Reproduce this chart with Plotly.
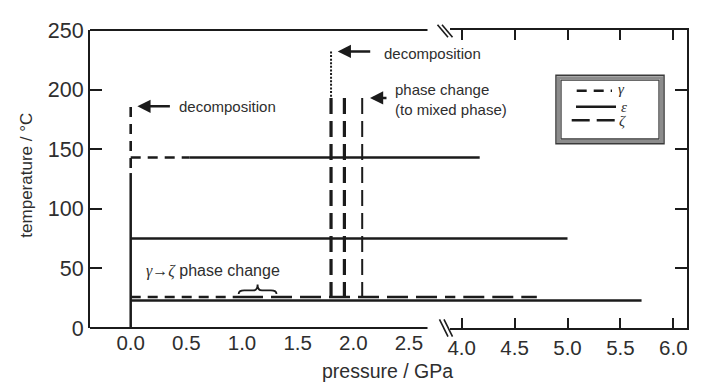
import plotly.graph_objects as go

# ---------------- data ----------------
left_tick_vals = [0.0, 0.5, 1.0, 1.5, 2.0, 2.5]
left_tick_text = ["0.0", "0.5", "1.0", "1.5", "2.0", "2.5"]
left_tick_marks = [0.0, 2 / 3, 4 / 3, 2.0, 8 / 3]
right_tick_vals = [4.0, 4.5, 5.0, 5.5, 6.0]
right_tick_text = ["4.0", "4.5", "5.0", "5.5", "6.0"]
temp_tick_vals = [0, 50, 100, 150, 200, 250]

# gamma phase (short dashes)
gamma_pressure = [0, 0, None, 0, 0.53, None, 0, 1.0]
gamma_temperature = [185.5, 130, None, 143, 143, None, 26, 26]
# epsilon phase (solid)
epsilon_pressure = [0, 0, None, 0.53, 4.17, None, 0, 5.0, None, 0, 5.7]
epsilon_temperature = [130, 0, None, 143, 143, None, 75, 75, None, 23, 23]
# zeta phase (long dashes)
zeta_pressure = [1.0, 4.71]
zeta_temperature = [26, 26]
zeta_heavy_pressure = [1.80, 1.80, None, 1.92, 1.92]
zeta_heavy_temperature = [193, 26, None, 193, 26]
zeta_light_pressure = [2.08, 2.08]
zeta_light_temperature = [193, 26]
# decomposition path (dotted)
decomp_pressure = [1.80, 1.80]
decomp_temperature = [232, 193]

# ---------------- layout geometry ----------------
OFF = 8                                      # page body margin
FIG_W, FIG_H = 728 - 2 * OFF, 390 - 2 * OFF
PL, PR, PT, PB = 90, 687, 19, 328            # plot area in page pixels
SPLIT_PX = 450                               # pixel where right axis begins
X0_PX, PX_PER_GPA_L = 130.7, 111.3           # left axis scale
X4_PX, PX_PER_GPA_R = 461.7, 105.8           # right axis scale
LEFT_RANGE = [(PL - X0_PX) / PX_PER_GPA_L, (SPLIT_PX - X0_PX) / PX_PER_GPA_L]
RIGHT_RANGE = [4.0 + (SPLIT_PX - X4_PX) / PX_PER_GPA_R, 4.0 + (PR - X4_PX) / PX_PER_GPA_R]
XSPLIT = (SPLIT_PX - PL) / (PR - PL)


def fx(px):
    return (px - PL) / (PR - PL)


def fy(py):
    return (PB - py) / (PB - PT)


INK = "#1b1b1b"
TXT = "#2e2e2e"
SANS = "Liberation Sans, Arial, sans-serif"
SERIF = "Liberation Serif, Times New Roman, serif"

fig = go.Figure()


def add_both(x, y, width, dash):
    for xa, ya in (("x", "y"), ("x2", "y2")):
        fig.add_trace(go.Scatter(
            x=x, y=y, xaxis=xa, yaxis=ya, mode="lines",
            line=dict(color=INK, width=width, dash=dash),
            hoverinfo="skip", showlegend=False))


add_both(epsilon_pressure, epsilon_temperature, 2.5, "solid")
add_both(gamma_pressure, gamma_temperature, 2.6, "10px,7px")
add_both(zeta_pressure, zeta_temperature, 2.6, "21px,8px")
add_both(zeta_heavy_pressure, zeta_heavy_temperature, 3.2, "16px,7px")
add_both(zeta_light_pressure, zeta_light_temperature, 2.0, "16px,7px")
add_both(decomp_pressure, decomp_temperature, 2.0, "2px,1.6px")

tick_common = dict(showgrid=False, zeroline=False, tickcolor=INK, tickwidth=2)
XFONT = dict(family=SANS, size=20.5, color=TXT)
YFONT = dict(family=SANS, size=21.5, color=TXT)

fig.update_layout(
    width=FIG_W, height=FIG_H,
    margin=dict(l=PL - OFF, r=FIG_W - (PR - OFF), t=PT - OFF, b=FIG_H - (PB - OFF), pad=0),
    plot_bgcolor="white", paper_bgcolor="white", showlegend=False,
    xaxis=dict(domain=[0, XSPLIT], range=LEFT_RANGE, anchor="y",
               tickmode="array", tickvals=left_tick_vals, ticktext=left_tick_text,
               ticks="", showline=False, ticklabelstandoff=0,
               tickfont=XFONT, showgrid=False, zeroline=False),
    xaxis3=dict(overlaying="x", range=LEFT_RANGE, anchor="y",
                tickmode="array", tickvals=left_tick_marks,
                ticks="inside", ticklen=10, mirror="ticks", showline=False,
                showticklabels=False, **tick_common),
    xaxis2=dict(domain=[XSPLIT, 1], range=RIGHT_RANGE, anchor="y2",
                tickmode="array", tickvals=right_tick_vals, ticktext=right_tick_text,
                ticks="inside", ticklen=10, mirror="ticks",
                showline=True, linecolor=INK, linewidth=2, ticklabelstandoff=0,
                tickfont=XFONT, **tick_common),
    yaxis=dict(range=[0, 250], anchor="x", tickmode="array", tickvals=temp_tick_vals,
               ticks="inside", ticklen=12, showline=True, linecolor=INK, linewidth=2,
               ticklabelstandoff=0, tickfont=YFONT, **tick_common),
    yaxis2=dict(range=[0, 250], anchor="x2", side="right", tickmode="array",
                tickvals=temp_tick_vals, ticks="inside", ticklen=12, showline=True,
                linecolor=INK, linewidth=2, showticklabels=False, **tick_common),
)

shapes = []
# left-part frame (top / bottom), ending at the last left tick
for yv in (0, 1):
    shapes.append(dict(type="line", xref="x", yref="paper",
                       x0=LEFT_RANGE[0], x1=left_tick_marks[-1], y0=yv, y1=yv,
                       line=dict(color=INK, width=2)))
# axis-break marks
for dx in (0, 4.5):
    shapes.append(dict(type="line", xref="paper", yref="paper",
                       x0=fx(437.5 + dx), y0=fy(13.5), x1=fx(448 + dx), y1=fy(26.5),
                       line=dict(color=INK, width=1.6)))
    shapes.append(dict(type="line", xref="paper", yref="paper",
                       x0=fx(439.5 + dx), y0=fy(319), x1=fx(448 + dx), y1=fy(337),
                       line=dict(color=INK, width=1.6)))
# curly brace for gamma -> zeta change
bx0, bx1, bxc = 0.97, 1.31, 1.14
by0, bym, byt = 28.6, 31.5, 36.5
brace = (f"M {bx0},{by0} Q {bx0},{bym} {bx0+0.05},{bym} L {bxc-0.04},{bym} "
         f"Q {bxc},{bym} {bxc},{byt} Q {bxc},{bym} {bxc+0.04},{bym} "
         f"L {bx1-0.05},{bym} Q {bx1},{bym} {bx1},{by0}")
shapes.append(dict(type="path", xref="x", yref="y", path=brace,
                   line=dict(color=INK, width=1.8)))
# legend box (double frame)
shapes.append(dict(type="rect", xref="paper", yref="paper",
                   x0=fx(556), x1=fx(664), y0=fy(66), y1=fy(137),
                   line=dict(color="#3a3a3a", width=1.5), fillcolor="white"))
shapes.append(dict(type="rect", xref="paper", yref="paper",
                   x0=fx(558.5), x1=fx(661.5), y0=fy(68.5), y1=fy(134.5),
                   line=dict(color="#8c8c8c", width=3)))
shapes.append(dict(type="rect", xref="paper", yref="paper",
                   x0=fx(561), x1=fx(659), y0=fy(71), y1=fy(132),
                   line=dict(color="#3a3a3a", width=1.3)))
# legend samples
shapes.append(dict(type="line", xref="paper", yref="paper",
                   x0=fx(576.7), x1=fx(612), y0=fy(82), y1=fy(82),
                   line=dict(color=INK, width=2.5, dash="10px,7px")))
shapes.append(dict(type="line", xref="paper", yref="paper",
                   x0=fx(576), x1=fx(616), y0=fy(98.5), y1=fy(98.5),
                   line=dict(color=INK, width=2.5)))
shapes.append(dict(type="line", xref="paper", yref="paper",
                   x0=fx(571.7), x1=fx(615), y0=fy(112.5), y1=fy(112.5),
                   line=dict(color=INK, width=2.5, dash="18px,7px")))
fig.update_layout(shapes=shapes)

ann = []


def arrow(x, y, ax):
    ann.append(dict(x=x, y=y, xref="x", yref="y", text="", showarrow=True,
                    ax=ax, ay=0, arrowhead=2, arrowsize=1.1, arrowwidth=2.4,
                    arrowcolor=INK, standoff=0, startstandoff=0))


def label(x, y, text, size=15, xref="x", yref="y", **kw):
    d = dict(x=x, y=y, xref=xref, yref=yref, text=text, showarrow=False,
             xanchor="left", yanchor="middle",
             font=dict(family=SANS, size=size, color=TXT))
    d.update(kw)
    ann.append(d)


arrow(0.06, 186, 34)
label(0.415, 186, "decomposition")
arrow(1.86, 232, 34)
label(2.255, 230, "decomposition")
arrow(2.15, 193, 18)
label(2.36, 191.5, "phase change<br>(to mixed phase)", align="left")
label(0.12, 47.5,
      "<span style='font-family:Liberation Serif;font-style:italic'>γ</span>→"
      "<span style='font-family:Liberation Serif;font-style:italic'>ζ</span> phase change",
      size=16)
# legend labels
for px_, py_, t in ((615.5, 80.5, "γ"), (619, 98.5, "ε"), (617, 113.5, "ζ")):
    ann.append(dict(x=fx(px_), y=fy(py_), xref="paper", yref="paper", text=t,
                    showarrow=False, xanchor="left", yanchor="middle",
                    font=dict(family=SERIF, size=15, color=TXT, style="italic")))
# axis titles
ann.append(dict(x=fx(387), y=fy(373), xref="paper", yref="paper",
                text="pressure / GPa", showarrow=False, xanchor="center",
                yanchor="middle", font=dict(family=SANS, size=19.5, color=TXT)))
ann.append(dict(x=fx(26.7), y=fy(169.3), xref="paper", yref="paper",
                text="temperature / °C", showarrow=False, textangle=-90,
                xanchor="center", yanchor="middle",
                font=dict(family=SANS, size=17, color=TXT)))
fig.update_layout(annotations=ann)

fig.write_html("out.html")
